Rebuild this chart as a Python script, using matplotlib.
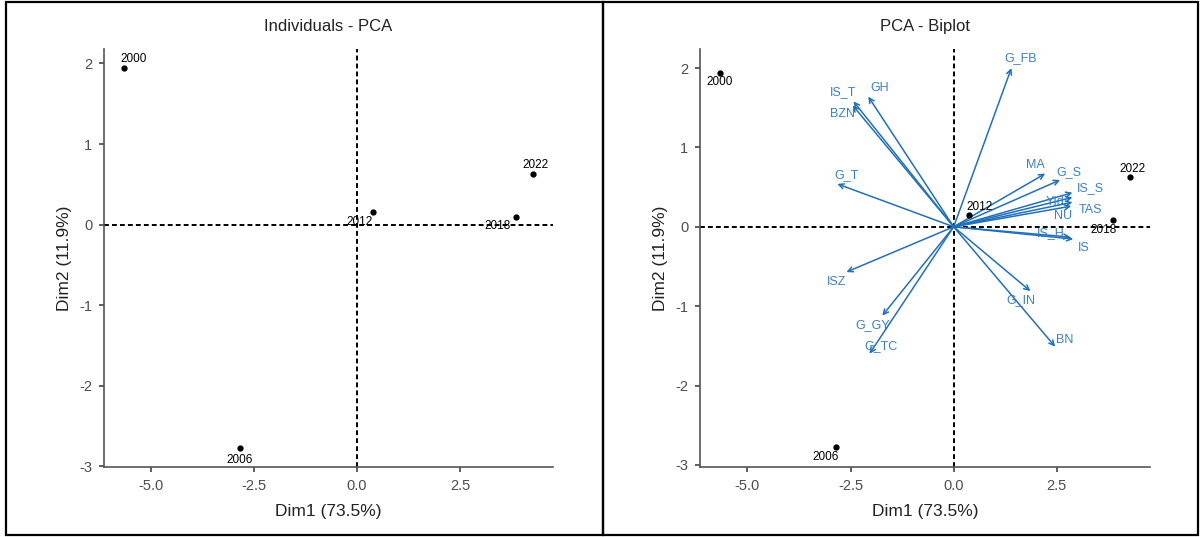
import matplotlib
matplotlib.use('Agg')
import matplotlib.pyplot as plt
from matplotlib.patches import Rectangle

plt.rcParams['font.family'] = ['Liberation Sans', 'DejaVu Sans']
plt.rcParams['axes.unicode_minus'] = False

# individuals (years) on Dim1 / Dim2
years = ['2000', '2006', '2012', '2018', '2022']
ind_x = [-5.67, -2.85, 0.38, 3.86, 4.27]
ind_y = [1.94, -2.78, 0.15, 0.09, 0.63]

# variables (arrows) on Dim1 / Dim2
var_names = ['G_FB', 'IS_T', 'BZN', 'GH', 'G_T', 'MA', 'G_S', 'IS_S', 'YId',
             'TAS', 'NU', 'IS_H', 'IS', 'ISZ', 'G_GY', 'G_TC', 'G_IN', 'BN']
var_x = [1.40, -2.43, -2.45, -2.07, -2.82, 2.22, 2.58, 2.88, 2.88,
         2.88, 2.85, 2.83, 2.90, -2.60, -1.73, -2.04, 1.86, 2.46]
var_y = [2.00, 1.58, 1.53, 1.64, 0.54, 0.67, 0.59, 0.43, 0.37,
         0.31, 0.26, -0.13, -0.155, -0.57, -1.12, -1.60, -0.81, -1.51]

# label offsets in pixels (x right, y up)
ind_off_left = [(10, 9), (0, -12), (-13, -10), (-18, -9), (3, 9)]
ind_off_right = [(0, -9), (-10, -10), (10, 8), (-9, -10), (3, 8)]
var_off = [(9, 10), (-10, 9), (-10, -9), (11, 9), (9, 9), (-10, 9), (9, 8),
           (18, 5), (-17, -5), (18, -8), (-8, -10), (-20, 4), (10, -9),
           (-10, -10), (-10, -9), (11, 8), (-10, -9), (10, 7)]

ARROW = '#2070BE'
LABEL = '#3B80C8'
GREY = '#4D4D4D'

fig = plt.figure(figsize=(12, 5.37), dpi=100)
ax1 = fig.add_axes([104/1200, 1-467/537, 449/1200, 418/537])
ax2 = fig.add_axes([700/1200, 1-467.3/537, 450/1200, 418.3/537])


def style(ax, title, ylim):
    ax.set_xlim(-6.15, 4.76)
    ax.set_ylim(*ylim)
    for s in ['top', 'right']:
        ax.spines[s].set_visible(False)
    for s in ['left', 'bottom']:
        ax.spines[s].set_color('#555555')
        ax.spines[s].set_linewidth(1.2)
    ax.axhline(0, color='black', lw=1.4, ls=(0, (2.5, 1.6)), zorder=1)
    ax.axvline(0, color='black', lw=1.4, ls=(0, (2.5, 1.6)), zorder=1)
    ax.set_xticks([-5.0, -2.5, 0.0, 2.5])
    ax.set_xticklabels(['-5.0', '-2.5', '0.0', '2.5'])
    ax.set_yticks([-3, -2, -1, 0, 1, 2])
    ax.tick_params(length=3.5, width=1.1, color='#333333', labelcolor=GREY,
                   labelsize=10.5, pad=5)
    ax.set_title(title, fontsize=12, color='#222222', pad=13)
    ax.set_xlabel('Dim1 (73.5%)', fontsize=12.5, color='#222222', labelpad=8)
    ax.set_ylabel('Dim2 (11.9%)', fontsize=12.5, color='#222222', labelpad=5)


style(ax1, 'Individuals - PCA', (-3.01, 2.18))
style(ax2, 'PCA - Biplot', (-3.03, 2.24))

# left: individuals
ax1.plot(ind_x, ind_y, 'o', color='black', ms=3.5, zorder=3)
for t, x, y, o in zip(years, ind_x, ind_y, ind_off_left):
    ax1.annotate(t, (x, y), xytext=o, textcoords='offset pixels',
                 ha='center', va='center', fontsize=8.5, color='black')

# right: biplot
for n, x, y, o in zip(var_names, var_x, var_y, var_off):
    ax2.annotate('', xy=(x, y), xytext=(0, 0),
                 arrowprops=dict(arrowstyle='->', color=ARROW, lw=1.1,
                                 shrinkA=0, shrinkB=0, mutation_scale=9))
    ax2.annotate(n, (x, y), xytext=o, textcoords='offset pixels',
                 ha='center', va='center', fontsize=9, color=LABEL)

ax2.plot(ind_x, ind_y, 'o', color='black', ms=3.5, zorder=3)
for t, x, y, o in zip(years, ind_x, ind_y, ind_off_right):
    ax2.annotate(t, (x, y), xytext=o, textcoords='offset pixels',
                 ha='center', va='center', fontsize=8.5, color='black')

# panel borders
for x0, x1 in [(6, 603), (603, 1198)]:
    fig.add_artist(Rectangle((x0/1200, 2/537), (x1-x0)/1200, 533/537,
                             transform=fig.transFigure, fill=False,
                             edgecolor='black', lw=1.6))

fig.savefig('out.png', dpi=100)
